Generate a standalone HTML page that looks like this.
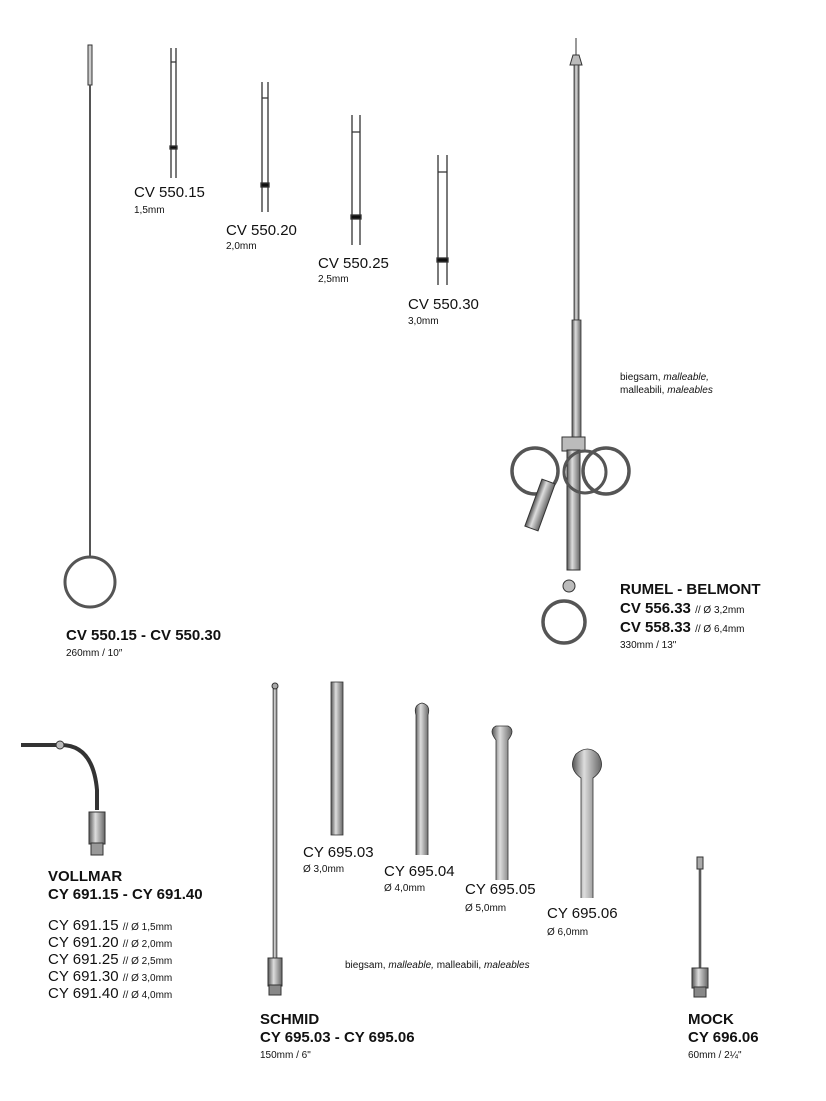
<!DOCTYPE html>
<html><head><meta charset="utf-8"><style>
html,body{margin:0;padding:0;background:#fff}
svg{display:block}
text{font-family:"Liberation Sans",Arial,sans-serif;fill:#111}
.b{font-weight:bold;font-size:15px}
.r{font-size:15px}
.s{font-size:10px}
</style></head><body>
<svg width="826" height="1101" viewBox="0 0 826 1101">
<defs>
<linearGradient id="m" x1="0" x2="1"><stop offset="0" stop-color="#555"/><stop offset=".4" stop-color="#ddd"/><stop offset="1" stop-color="#666"/></linearGradient>
</defs>
<g stroke="#333" fill="none">
<path d="M88 45 v40 h4 v-40 z" fill="#ccc"/>
<line x1="90" y1="85" x2="90" y2="556" stroke-width="2" stroke="#555"/>
<circle cx="90" cy="582" r="25" stroke-width="3" stroke="#555"/>
<g stroke-width="1.3">
<path d="M171 48 v130 M176 48 v130 M171 62 h5"/><rect x="170" y="146" width="7" height="3" fill="#111"/>
<path d="M262 82 v130 M268 82 v130 M262 98 h6"/><rect x="261" y="183" width="8" height="4" fill="#111"/>
<path d="M352 115 v130 M360 115 v130 M352 132 h8"/><rect x="351" y="215" width="10" height="4" fill="#111"/>
<path d="M438 155 v130 M447 155 v130 M438 172 h9"/><rect x="437" y="258" width="11" height="4" fill="#111"/>
</g>
<path d="M576 38 v20"/>
<path d="M570 65 l3 -10 h6 l3 10 z" fill="#bbb"/>
<rect x="574" y="65" width="5" height="255" fill="url(#m)" stroke-width=".8"/>
<rect x="572" y="320" width="9" height="120" fill="url(#m)" stroke-width=".8"/>
<rect x="562" y="437" width="23" height="14" fill="#bbb"/>
<rect x="567" y="450" width="13" height="120" fill="url(#m)"/>
<circle cx="535" cy="471" r="23" stroke-width="3.5" stroke="#555"/>
<circle cx="606" cy="471" r="23" stroke-width="3.5" stroke="#555"/>
<circle cx="585" cy="472" r="21" stroke-width="3" stroke="#555"/>
<rect x="533" y="480" width="14" height="50" transform="rotate(20 540 505)" fill="url(#m)"/>
<circle cx="569" cy="586" r="6" fill="#bbb"/>
<circle cx="564" cy="622" r="21" stroke-width="3.5" stroke="#555"/>
<path d="M21 745 h40 q32 0 36 45 v20" stroke-width="4"/>
<circle cx="60" cy="745" r="4" fill="#bbb"/>
<rect x="89" y="812" width="16" height="32" fill="url(#m)"/>
<rect x="91" y="843" width="12" height="12" fill="#999"/>
<circle cx="275" cy="686" r="3" fill="#aaa"/>
<rect x="273" y="689" width="4" height="270" fill="url(#m)" stroke-width=".6"/>
<rect x="268" y="958" width="14" height="28" fill="url(#m)"/>
<rect x="269" y="985" width="12" height="10" fill="#888"/>
<rect x="331" y="682" width="12" height="153" fill="url(#m)" stroke-width=".8"/>
<path d="M416 855 v-140 q-3 -10 6 -12 q9 2 6 12 v140" fill="url(#m)" stroke-width=".8"/>
<path d="M496 880 v-140 q-8 -10 0 -14 h12 q8 4 0 14 v140" fill="url(#m)" stroke-width=".8"/>
<path d="M581 898 v-120 q-14 -10 -5 -24 q12 -10 22 0 q9 14 -5 24 v120" fill="url(#m)" stroke-width=".8"/>
<rect x="697" y="857" width="6" height="12" fill="#aaa"/>
<rect x="699" y="869" width="2" height="100" fill="#666" stroke-width=".5"/>
<rect x="692" y="968" width="16" height="20" fill="url(#m)"/>
<rect x="694" y="987" width="12" height="10" fill="#888"/>
</g>
<text x="134" y="197" class="r">CV 550.15</text><text x="134" y="213" class="s">1,5mm</text>
<text x="226" y="235" class="r">CV 550.20</text><text x="226" y="249" class="s">2,0mm</text>
<text x="318" y="268" class="r">CV 550.25</text><text x="318" y="282" class="s">2,5mm</text>
<text x="408" y="309" class="r">CV 550.30</text><text x="408" y="324" class="s">3,0mm</text>
<text x="620" y="380" class="s">biegsam, <tspan font-style="italic">malleable,</tspan></text>
<text x="620" y="393" class="s">malleabili, <tspan font-style="italic">maleables</tspan></text>
<text x="620" y="594" class="b">RUMEL - BELMONT</text>
<text x="620" y="613" class="b">CV 556.33 <tspan class="s" font-weight="normal">// Ø 3,2mm</tspan></text>
<text x="620" y="632" class="b">CV 558.33 <tspan class="s" font-weight="normal">// Ø 6,4mm</tspan></text>
<text x="620" y="648" class="s">330mm / 13"</text>
<text x="66" y="640" class="b">CV 550.15 - CV 550.30</text>
<text x="66" y="656" class="s">260mm / 10″</text>
<text x="48" y="881" class="b">VOLLMAR</text>
<text x="48" y="899" class="b">CY 691.15 - CY 691.40</text>
<text x="48" y="930" class="r">CY 691.15 <tspan class="s">// Ø 1,5mm</tspan></text>
<text x="48" y="947" class="r">CY 691.20 <tspan class="s">// Ø 2,0mm</tspan></text>
<text x="48" y="964" class="r">CY 691.25 <tspan class="s">// Ø 2,5mm</tspan></text>
<text x="48" y="981" class="r">CY 691.30 <tspan class="s">// Ø 3,0mm</tspan></text>
<text x="48" y="998" class="r">CY 691.40 <tspan class="s">// Ø 4,0mm</tspan></text>
<text x="303" y="857" class="r">CY 695.03</text><text x="303" y="872" class="s">Ø 3,0mm</text>
<text x="384" y="876" class="r">CY 695.04</text><text x="384" y="891" class="s">Ø 4,0mm</text>
<text x="465" y="894" class="r">CY 695.05</text><text x="465" y="911" class="s">Ø 5,0mm</text>
<text x="547" y="918" class="r">CY 695.06</text><text x="547" y="935" class="s">Ø 6,0mm</text>
<text x="345" y="968" class="s">biegsam, <tspan font-style="italic">malleable,</tspan> malleabili, <tspan font-style="italic">maleables</tspan></text>
<text x="260" y="1024" class="b">SCHMID</text>
<text x="260" y="1042" class="b">CY 695.03 - CY 695.06</text>
<text x="260" y="1058" class="s">150mm / 6"</text>
<text x="688" y="1024" class="b">MOCK</text>
<text x="688" y="1042" class="b">CY 696.06</text>
<text x="688" y="1058" class="s">60mm / 2¼"</text>
</svg>
</body></html>
